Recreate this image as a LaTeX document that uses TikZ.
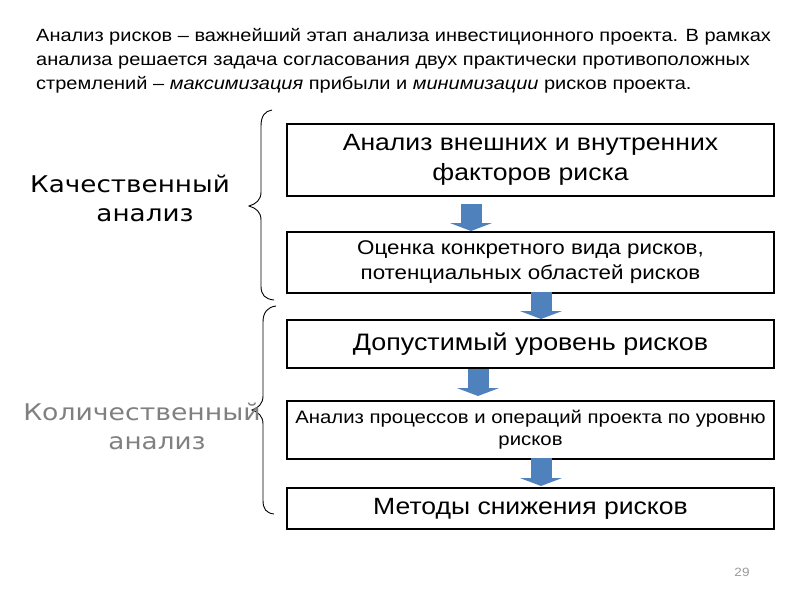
\documentclass[tikz,border=0pt]{standalone}
\usepackage{fontspec}
\setmainfont[FakeStretch=1.13]{Liberation Sans}
\newfontfamily\djvw[FakeStretch=1.14]{DejaVu Sans}
\newfontfamily\djvk[FakeStretch=1.16]{DejaVu Sans}
\usetikzlibrary{arrows.meta}
\definecolor{arrowblue}{HTML}{4F81BD}
\definecolor{labgray}{HTML}{808080}
\definecolor{numgray}{HTML}{9A9A9A}
\tikzset{
  stagebox/.style={draw=black, line width=2pt, minimum width=487pt, anchor=north west, inner sep=0pt, align=center},
  barrow/.style={draw=arrowblue, line width=21pt, -{Triangle[width=42pt,length=8pt]}},
  bracestyle/.style={draw=black, line width=0.9pt},
  sidelab/.style={anchor=center, font=\djvw\fontsize{23}{27}\selectfont},
}
\begin{document}
\begin{tikzpicture}[x=1pt,y=-1pt]
\useasboundingbox (0,0) rectangle (800,600);
% header text
\node[anchor=north west, align=left, inner sep=0pt, font=\fontsize{17.7}{24}\selectfont] (head) at (36,28)
 {Анализ рисков – важнейший этап анализа инвестиционного проекта. В рамках\\
  анализа решается задача согласования двух практически противоположных\\
  стремлений – \textit{максимизация} прибыли и \textit{минимизации} рисков проекта.};
% boxes
\node[stagebox, minimum height=72pt, font=\fontsize{23.5}{30}\selectfont] (b1) at (286,123)
 {Анализ внешних и внутренних\\факторов риска};
\node[stagebox, minimum height=61pt, font=\fontsize{19.8}{25}\selectfont] (b2) at (286,231)
 {Оценка конкретного вида рисков,\\потенциальных областей рисков};
\node[stagebox, minimum height=48pt, font=\fontsize{23.8}{26}\selectfont] (b3) at (286,319)
 {Допустимый уровень рисков};
\node[stagebox, minimum height=58pt, font=\fontsize{18}{22}\selectfont] (b4) at (286,400)
 {Анализ процессов и операций проекта по уровню\\рисков};
\node[stagebox, minimum height=41pt, font=\fontsize{23.5}{26}\selectfont] (b5) at (286,487)
 {Методы снижения рисков};
% arrows
\coordinate (a1s) at (471,204); \coordinate (a1e) at (471,231);
\coordinate (a2s) at (541,292); \coordinate (a2e) at (541,319);
\coordinate (a3s) at (478,369); \coordinate (a3e) at (478,396);
\coordinate (a4s) at (541,458); \coordinate (a4e) at (541,486);
\draw[barrow] (a1s) -- (a1e);
\draw[barrow] (a2s) -- (a2e);
\draw[barrow] (a3s) -- (a3e);
\draw[barrow] (a4s) -- (a4e);
% braces
\draw[bracestyle] (272,110) .. controls (265,111) and (261,116) .. (261,126) -- (261,192)
  .. controls (261,200) and (256,204) .. (249,206) .. controls (256,208) and (261,212) .. (261,220)
  -- (261,286) .. controls (261,295) and (265,299) .. (274,300);
\draw[bracestyle] (276,306) .. controls (268,307) and (263,312) .. (263,322) -- (263,396)
  .. controls (263,404) and (258,408) .. (252,410) .. controls (258,412) and (263,416) .. (263,424)
  -- (263,500) .. controls (263,509) and (266,513) .. (274,514);
% side labels
\node[sidelab] (q1) at (130,184) {Качественный};
\node[sidelab] (q2) at (145,215) {анализ};
\node[sidelab, text=labgray, font=\djvk\fontsize{23}{27}\selectfont] (k1) at (142,412) {Количественный};
\node[sidelab, text=labgray] (k2) at (157,443) {анализ};
% page number
\node[text=numgray, font=\fontsize{12}{14}\selectfont] (pn) at (742,572) {29};
\end{tikzpicture}
\end{document}
